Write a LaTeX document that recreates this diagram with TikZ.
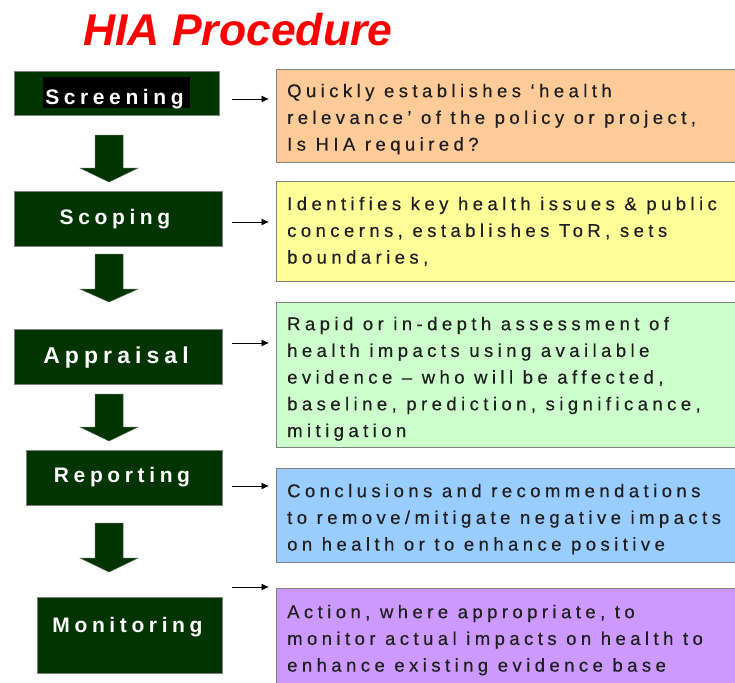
\documentclass[tikz,border=0pt]{standalone}
\usepackage{fontspec}
\setmainfont{Liberation Sans}
\newfontfamily\bodyfont[LetterSpace=24,FakeBold=0.35]{Liberation Sans}
\newfontfamily\labelfont[LetterSpace=22]{Liberation Sans}
\usetikzlibrary{arrows.meta}
\definecolor{stagegreen}{RGB}{1,52,1}
\definecolor{boxorange}{RGB}{255,204,153}
\definecolor{boxyellow}{RGB}{255,255,153}
\definecolor{boxgreen}{RGB}{204,255,204}
\definecolor{boxblue}{RGB}{153,204,255}
\definecolor{boxpurple}{RGB}{204,153,255}
\definecolor{bordergray}{RGB}{128,128,128}
\definecolor{textdark}{RGB}{30,30,30}
\begin{document}
\begin{tikzpicture}[x=1pt,y=-1pt,
  stagebox/.style={draw=bordergray, line width=0.8pt, fill=stagegreen, inner sep=0pt, anchor=north west},
  stagelabel/.style={text=white, inner sep=0pt, anchor=base, font=\labelfont\bfseries\fontsize{21}{21}\selectfont},
  infobox/.style={draw=bordergray, line width=0.9pt, inner sep=0pt, anchor=north west},
  infotext/.style={text=textdark, inner sep=0pt, anchor=north west, align=left, font=\bodyfont\fontsize{18.5}{26.7}\selectfont},
  sarrow/.style={draw=black, line width=0.8pt, -{Latex[length=7.5pt,width=7pt]}, shorten >=7pt},
  blockarrow/.style={fill=stagegreen, draw=bordergray!60!stagegreen, line width=0.5pt}
]
\useasboundingbox (0,0) rectangle (735,682);
\clip (0,0) rectangle (735,682);

% title
\node[anchor=base west, inner sep=0pt, text=red, font=\fontsize{44.5}{44.5}\selectfont\bfseries\itshape] (title) at (83,46) {HIA Procedure};

% stage boxes
\node[stagebox, minimum width=205pt, minimum height=44pt] (scr) at (14,71) {};
\fill[black] (43,77) rectangle (190,108);
\node[stagelabel] (scrT) at (114.5,105) {Screening};

\node[stagebox, minimum width=208pt, minimum height=55pt] (sco) at (14,191) {};
\node[stagelabel] (scoT) at (115,224) {Scoping};

\node[stagebox, minimum width=208pt, minimum height=55pt] (app) at (14,329) {};
\node[stagelabel, font=\labelfont\bfseries\fontsize{23}{23}\selectfont] (appT) at (116,363) {Appraisal};

\node[stagebox, minimum width=196pt, minimum height=55pt] (rep) at (26,450) {};
\node[stagelabel] (repT) at (122,482) {Reporting};

\node[stagebox, minimum width=185pt, minimum height=76pt] (mon) at (37,597) {};
\node[stagelabel] (monT) at (127.5,632) {Monitoring};

% block arrows between stages
\foreach \top/\base/\tip in {135/168/182, 254/289/302, 394/427/441, 523/558/572}{
  \path[blockarrow] (95,\top) -- (123,\top) -- (123,\base) -- (138,\base) -- (109,\tip)
     -- (80,\base) -- (95,\base) -- cycle;
}

% information boxes
\path[infobox, fill=boxorange] (276,69) rectangle (740,162);
\node[infotext] (oraT) at (287,83.6) {Quickly establishes ‘health\\relevance’ of the policy or project,\\Is HIA required?};

\path[infobox, fill=boxyellow] (276,181) rectangle (740,281);
\node[infotext] (yelT) at (287,196.6) {Identifies key health issues \& public\\concerns, establishes ToR, sets\\boundaries,};

\path[infobox, fill=boxgreen] (276,302) rectangle (740,447);
\node[infotext] (grnT) at (287,316.6) {Rapid or in-depth assessment of\\health impacts using available\\evidence – who will be affected,\\baseline, prediction, significance,\\mitigation};

\path[infobox, fill=boxblue] (276,468) rectangle (740,562);
\node[infotext] (bluT) at (287,483.6) {Conclusions and recommendations\\to remove/mitigate negative impacts\\on health or to enhance positive};

\path[infobox, fill=boxpurple] (276,588) rectangle (740,700);
\node[infotext] (purT) at (287,604.6) {Action, where appropriate, to\\monitor actual impacts on health to\\enhance existing evidence base};

% small arrows
\coordinate (s1) at (232,99);
\coordinate (s2) at (232,222);
\coordinate (s3) at (232,343);
\coordinate (s4) at (232,486);
\coordinate (s5) at (232,587);
\coordinate (rightedge) at (276,0);
\foreach \s in {s1,s2,s3,s4,s5}{
  \draw[sarrow] (\s) -- (\s -| rightedge);
}
\end{tikzpicture}
\end{document}
